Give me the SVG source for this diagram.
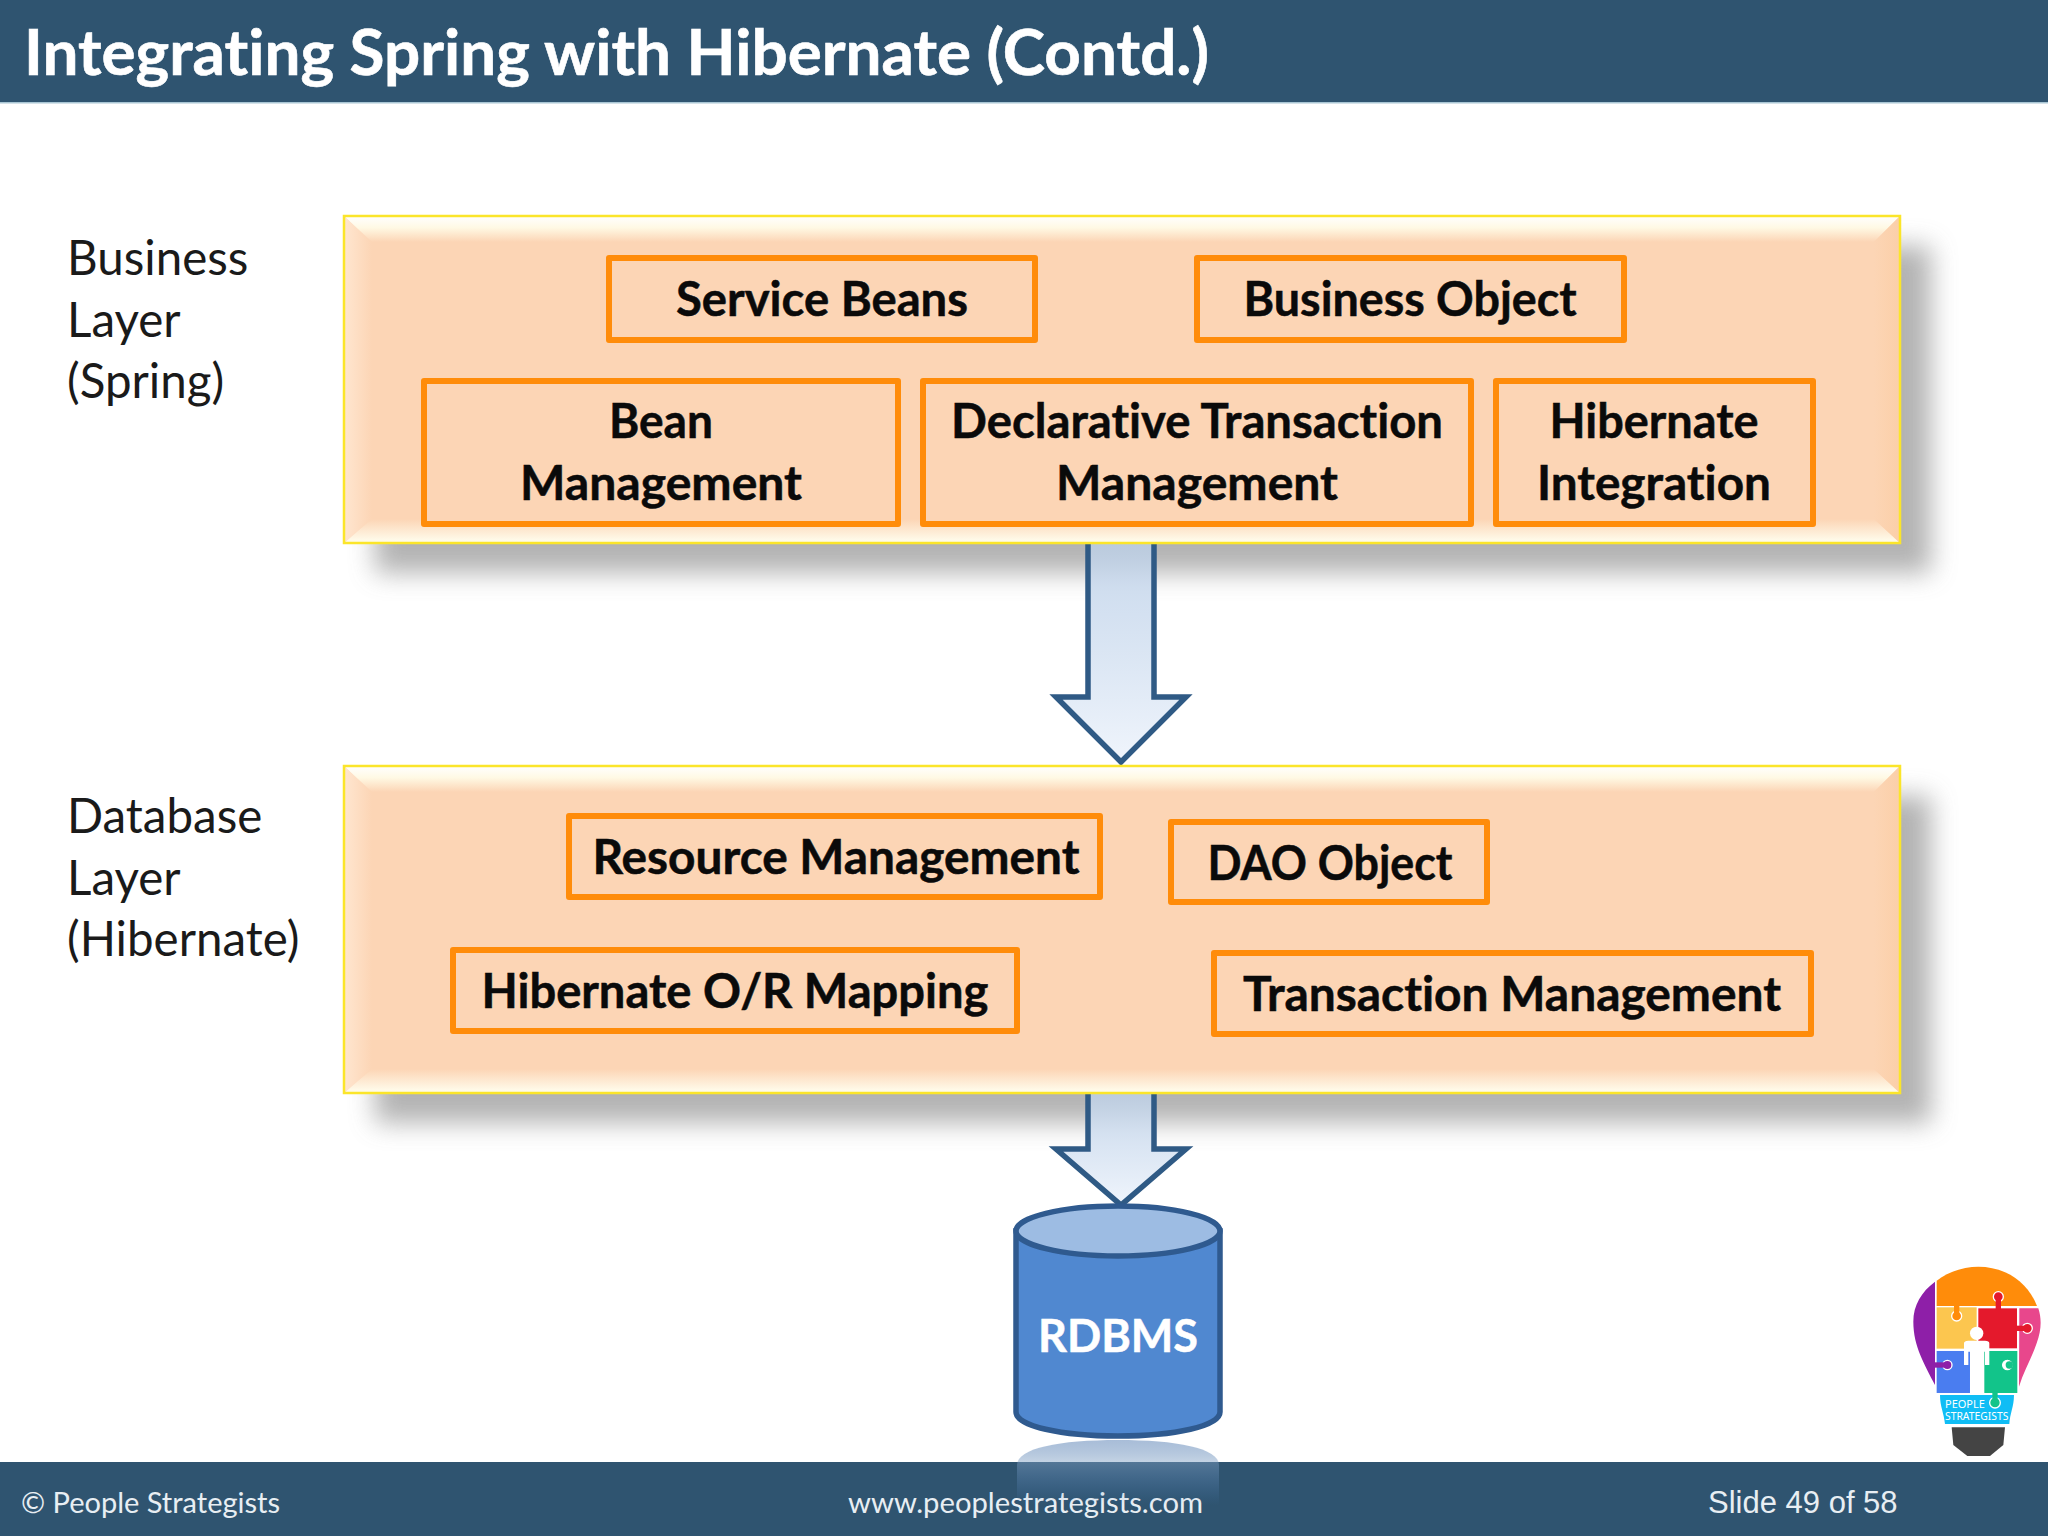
<svg xmlns="http://www.w3.org/2000/svg" width="2048" height="1536" viewBox="0 0 2048 1536">
<style>
.t{font-family:"Lato","Liberation Sans",sans-serif;font-variant-ligatures:none}
.b{font-weight:700;font-size:47px;fill:#0a0a0a;text-anchor:middle;stroke:#0a0a0a;stroke-width:.5}
.l{font-weight:400;font-size:47.500px;fill:#1a1a1a}
.box{fill:#fcd5b5;stroke:#ff8c0a;stroke-width:6;stroke-linejoin:round}
.outer{fill:#fcd5b5}
.edge{fill:none;stroke:#fbe52a;stroke-width:2.500}
.foot{font-size:29.300px;fill:#e8eef3}
.arrow{fill:url(#ag);stroke:#2f5a85;stroke-width:5.500;stroke-linejoin:miter}
.k{stroke:#fff;stroke-width:4}
</style>
<defs>
<filter id="blur" x="-10%" y="-20%" width="120%" height="140%"><feGaussianBlur stdDeviation="13"/></filter>
<linearGradient id="ag" x1="0" y1="0" x2="0" y2="1"><stop offset="0" stop-color="#bcd0e8" stop-opacity=".8"/><stop offset="1" stop-color="#f0f5fc"/></linearGradient>
<linearGradient id="bt" x1="0" y1="0" x2="0" y2="1"><stop offset="0" stop-color="#ffffff"/><stop offset=".45" stop-color="#fff9e4"/><stop offset="1" stop-color="#fcd5b5"/></linearGradient>
<linearGradient id="bb" x1="0" y1="1" x2="0" y2="0"><stop offset="0" stop-color="#fffff0"/><stop offset="1" stop-color="#fcd5b5"/></linearGradient>
<linearGradient id="bl" x1="0" y1="0" x2="1" y2="0"><stop offset="0" stop-color="#ffe6d0"/><stop offset="1" stop-color="#fcd5b5"/></linearGradient>
<linearGradient id="br" x1="1" y1="0" x2="0" y2="0"><stop offset="0" stop-color="#fbcfa8"/><stop offset="1" stop-color="#fcd5b5"/></linearGradient>
<linearGradient id="rf" x1="0" y1="0" x2="0" y2="1"><stop offset="0" stop-color="#9fb6d4" stop-opacity=".9"/><stop offset=".35" stop-color="#7f9fc4" stop-opacity=".45"/><stop offset="1" stop-color="#5088d0" stop-opacity="0"/></linearGradient>
<g id="slab">
<rect class="outer" x="0" y="0" width="1556" height="327"/>
<polygon points="0,0 1556,0 1530,26 26,26" fill="url(#bt)"/>
<polygon points="0,327 1556,327 1530,303 26,303" fill="url(#bb)"/>
<polygon points="0,0 28,26 28,303 0,327" fill="url(#bl)"/>
<polygon points="1556,0 1530,26 1530,303 1556,327" fill="url(#br)"/>
<rect class="edge" x="0" y="0" width="1556" height="327"/>
</g>
</defs>
<rect width="2048" height="1536" fill="#fff"/>
<g id="header">
<rect width="2048" height="102" fill="#2f5470"/>
<rect y="102" width="2048" height="1.500" fill="#a9c6d4"/>
<text class="t" x="24" y="75" font-size="63" font-weight="700" fill="#fff" stroke="#fff" stroke-width=".6" textLength="1185" lengthAdjust="spacingAndGlyphs">Integrating Spring with Hibernate (Contd.)</text>
</g>
<g id="label-business">
<text class="t l" x="67" y="275">Business</text><text class="t l" x="67" y="337">Layer</text><text class="t l" x="67" y="398">(Spring)</text>
</g>
<g id="label-database">
<text class="t l" x="67" y="833">Database</text><text class="t l" x="67" y="895">Layer</text><text class="t l" x="67" y="956">(Hibernate)</text>
</g>
<g id="shadows">
<rect x="375" y="246" width="1556" height="327" fill="#9a9a9a" opacity=".75" filter="url(#blur)"/>
<rect x="375" y="796" width="1556" height="327" fill="#9a9a9a" opacity=".75" filter="url(#blur)"/>
</g>
<g id="connectors">
<path class="arrow" d="M1088,540V697H1056L1121,762L1186,697H1154V540Z"/>
<path class="arrow" d="M1088,1088V1149H1056L1121,1205L1186,1149H1154V1088Z"/>
</g>
<g id="business-layer"><use href="#slab" x="344" y="216"/></g>
<g id="database-layer"><use href="#slab" x="344" y="766"/></g>
<g id="service-beans"><rect class="box" x="609" y="258" width="426" height="82"/><text class="t b" x="822" y="316" textLength="292" lengthAdjust="spacingAndGlyphs">Service Beans</text></g>
<g id="business-object"><rect class="box" x="1197" y="258" width="427" height="82"/><text class="t b" x="1410" y="316" textLength="333" lengthAdjust="spacingAndGlyphs">Business Object</text></g>
<g id="bean-management"><rect class="box" x="424" y="381" width="474" height="143"/><text class="t b" x="661" y="438" textLength="104" lengthAdjust="spacingAndGlyphs">Bean</text><text class="t b" x="661" y="500" textLength="282" lengthAdjust="spacingAndGlyphs">Management</text></g>
<g id="declarative-tx"><rect class="box" x="923" y="381" width="548" height="143"/><text class="t b" x="1197" y="438" textLength="492" lengthAdjust="spacingAndGlyphs">Declarative Transaction</text><text class="t b" x="1197" y="500" textLength="282" lengthAdjust="spacingAndGlyphs">Management</text></g>
<g id="hibernate-integration"><rect class="box" x="1496" y="381" width="317" height="143"/><text class="t b" x="1654" y="438" textLength="209" lengthAdjust="spacingAndGlyphs">Hibernate</text><text class="t b" x="1654" y="500" textLength="234" lengthAdjust="spacingAndGlyphs">Integration</text></g>
<g id="resource-management"><rect class="box" x="569" y="816" width="531" height="81"/><text class="t b" x="836" y="874" textLength="487" lengthAdjust="spacingAndGlyphs">Resource Management</text></g>
<g id="dao-object"><rect class="box" x="1171" y="822" width="316" height="80"/><text class="t b" x="1330" y="880" textLength="245" lengthAdjust="spacingAndGlyphs">DAO Object</text></g>
<g id="hibernate-mapping"><rect class="box" x="453" y="950" width="564" height="81"/><text class="t b" x="735" y="1008" textLength="507" lengthAdjust="spacingAndGlyphs">Hibernate O/R Mapping</text></g>
<g id="transaction-management"><rect class="box" x="1214" y="953" width="597" height="81"/><text class="t b" x="1512" y="1011" textLength="538" lengthAdjust="spacingAndGlyphs">Transaction Management</text></g>
<g id="footer">
<rect y="1462" width="2048" height="74" fill="#2f5470"/>
<text class="t foot" x="21" y="1513" textLength="259" lengthAdjust="spacingAndGlyphs">© People Strategists</text>
<text class="t foot" x="848" y="1513" textLength="355" lengthAdjust="spacingAndGlyphs">www.peoplestrategists.com</text>
<text x="1708" y="1513" font-size="31" fill="#e8eef3" font-family="Liberation Sans, sans-serif">Slide 49 of 58</text>
</g>
<g id="rdbms">
<path d="M1017,1505V1465C1017,1448 1060,1440 1118,1440C1176,1440 1219,1448 1219,1465V1505Z" fill="url(#rf)"/>
<path d="M1016,1231V1412C1016,1426 1061,1436 1118,1436C1175,1436 1220,1426 1220,1412V1231Z" fill="#5088d0" stroke="#2f5a8f" stroke-width="5.500"/>
<ellipse cx="1118" cy="1231" rx="102" ry="25" fill="#9dbce3" stroke="#2f5a8f" stroke-width="5.500"/>
<text class="t" x="1118" y="1352" font-size="45" font-weight="700" fill="#fff" stroke="#fff" stroke-width=".5" text-anchor="middle">RDBMS</text>
</g>
<g id="logo" transform="translate(1890,1250) scale(.3333)">
<path d="M140,92C180,62 225,50 265,50C350,50 415,100 441,168H140Z" fill="#ff8c0a"/>
<path d="M135,95C95,125 70,165 70,215C70,290 105,345 135,405Z" fill="#8e1fa8"/>
<rect x="140" y="172" width="120" height="124" fill="#fcc64f"/>
<rect x="265" y="175" width="116" height="120" fill="#e4192c"/>
<path d="M388,175H445C455,205 455,240 440,280C425,325 400,365 387,410Z" fill="#e8478c"/>
<rect x="140" y="303" width="100" height="126" fill="#4a7df0"/>
<rect x="283" y="303" width="99" height="126" fill="#12c48a"/>
<path d="M150,435H372C372,470 360,490 358,522H165C162,490 150,470 150,435Z" fill="#10bdf5"/>
<circle class="k" cx="200" cy="198" r="15" fill="#ff8c0a"/><rect x="192" y="166" width="16" height="24" fill="#ff8c0a"/>
<circle class="k" cx="325" cy="140" r="15" fill="#e4192c"/><rect x="317" y="148" width="16" height="30" fill="#e4192c"/>
<circle class="k" cx="412" cy="235" r="15" fill="#e4192c"/><rect x="378" y="227" width="26" height="16" fill="#e4192c"/>
<circle class="k" cx="172" cy="345" r="14" fill="#8e1fa8"/><rect x="132" y="337" width="32" height="16" fill="#8e1fa8"/>
<circle class="k" cx="352" cy="345" r="14" fill="#fff"/><circle cx="358" cy="345" r="11" fill="#12c48a"/>
<circle class="k" cx="315" cy="458" r="16" fill="#12c48a"/><rect x="307" y="425" width="16" height="24" fill="#12c48a"/>
<path d="M185,532H345L340,585L300,618H232L190,585Z" fill="#444"/>
<circle cx="260" cy="250" r="20" fill="#fff"/>
<path d="M222,280Q222,272 235,272H285Q298,272 298,280V345H285V305H280V430H240V305H235V345H222Z" fill="#fff"/>
<text x="165" y="475" font-size="33" fill="#fff" font-family="Noto Sans, sans-serif">PEOPLE</text>
<text x="165" y="510" font-size="30" fill="#fff" font-family="Noto Sans, sans-serif" textLength="190" lengthAdjust="spacingAndGlyphs">STRATEGISTS</text>
</g>
</svg>
